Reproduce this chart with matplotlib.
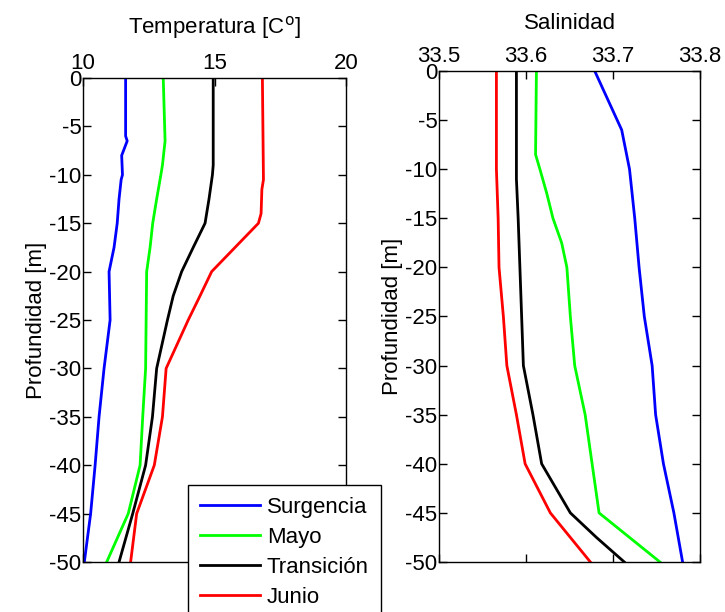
import matplotlib
matplotlib.use("Agg")
import matplotlib.pyplot as plt

plt.rcParams['font.family'] = ['Liberation Sans', 'DejaVu Sans']
plt.rcParams['axes.unicode_minus'] = False

# ---- datos: temperatura ----
z_t_surg = [0, -6, -6.5, -8, -10, -10.5, -12.5, -15, -17.5, -20, -25, -30, -35, -40, -45, -50]
t_surg = [11.62, 11.62, 11.68, 11.47, 11.50, 11.45, 11.37, 11.30, 11.18, 10.99, 11.03, 10.80, 10.61, 10.46, 10.29, 10.05]
z_t_mayo = [0, -6.5, -9, -10, -12.5, -15, -17.5, -20, -25, -30, -35, -40, -45, -50]
t_mayo = [13.05, 13.12, 13.02, 12.96, 12.80, 12.65, 12.55, 12.42, 12.40, 12.38, 12.27, 12.17, 11.72, 10.90]
z_t_trans = [0, -9, -10, -12.5, -15, -17.5, -20, -22.5, -25, -30, -35, -40, -45, -50]
t_trans = [14.95, 14.95, 14.92, 14.79, 14.64, 14.19, 13.75, 13.43, 13.21, 12.80, 12.64, 12.38, 11.89, 11.37]
z_t_jun = [0, -10.5, -11.5, -14, -15, -17.5, -20, -22.5, -25, -30, -35, -40, -45, -50]
t_jun = [16.82, 16.86, 16.80, 16.77, 16.67, 15.78, 14.89, 14.45, 14.0, 13.16, 13.02, 12.71, 12.04, 11.81]

# ---- datos: salinidad ----
z_s_surg = [0, -6, -10, -15, -20, -25, -30, -35, -40, -45, -50]
s_surg = [33.679, 33.710, 33.719, 33.725, 33.730, 33.736, 33.745, 33.749, 33.758, 33.770, 33.780]
z_s_mayo = [0, -8.5, -10, -12.5, -15, -17.5, -20, -25, -30, -35, -40, -45, -50]
s_mayo = [33.612, 33.611, 33.616, 33.624, 33.631, 33.641, 33.647, 33.651, 33.656, 33.668, 33.676, 33.684, 33.754]
z_s_trans = [0, -11, -15, -20, -25, -30, -35, -40, -45, -47.5, -50]
s_trans = [33.589, 33.589, 33.591, 33.593, 33.595, 33.597, 33.608, 33.618, 33.651, 33.681, 33.713]
z_s_jun = [0, -5, -10, -15, -20, -25, -30, -35, -40, -45, -50]
s_jun = [33.566, 33.566, 33.566, 33.568, 33.569, 33.574, 33.578, 33.589, 33.599, 33.628, 33.674]

nombres = ['Surgencia', 'Mayo', 'Transición', 'Junio']
colores = ['#0000ff', '#00ff00', '#000000', '#ff0000']
y_ticks = [0, -5, -10, -15, -20, -25, -30, -35, -40, -45, -50]
t_ticks = [10, 15, 20]
s_ticks = [33.5, 33.6, 33.7, 33.8]

FS = 16

fig = plt.figure(figsize=(7.25, 6.12), dpi=100)
ax1 = fig.add_axes([0.1145, 0.0817, 0.3628, 0.7908])
ax2 = fig.add_axes([0.6055, 0.0817, 0.36, 0.8023])

temp = [(t_surg, z_t_surg), (t_mayo, z_t_mayo), (t_trans, z_t_trans), (t_jun, z_t_jun)]
sal = [(s_surg, z_s_surg), (s_mayo, z_s_mayo), (s_trans, z_s_trans), (s_jun, z_s_jun)]

lineas = []
for (x, z), c, n in zip(temp, colores, nombres):
    l, = ax1.plot(x, z, color=c, lw=2, label=n)
    lineas.append(l)
for (x, z), c in zip(sal, colores):
    ax2.plot(x, z, color=c, lw=2)

for ax, xt, lim in [(ax1, t_ticks, (10, 20)), (ax2, s_ticks, (33.5, 33.8))]:
    ax.set_xlim(*lim)
    ax.set_ylim(-50, 0)
    ax.set_xticks(xt)
    ax.set_yticks(y_ticks)
    ax.xaxis.tick_top()
    ax.tick_params(direction='in', top=True, bottom=True, left=True, right=True,
                   labeltop=True, labelbottom=False, labelsize=FS, length=6, width=1)
    ax.tick_params(axis='y', pad=1)
    ax.tick_params(axis='x', pad=3)
    ax.set_ylabel('Profundidad [m]', fontsize=FS, labelpad=2)
    for s in ax.spines.values():
        s.set_linewidth(1)

ax1.set_xticklabels([str(v) for v in t_ticks])
ax2.set_xticklabels([f'{v:.1f}' for v in s_ticks])
ax1.set_title('Temperatura [C$^{\\mathrm{o}}$]', fontsize=FS, pad=14)
ax2.set_title('Salinidad', fontsize=FS, pad=12)

fig.legend(handles=lineas, loc='upper left', bbox_to_anchor=(188 / 725, 1 - 485 / 612),
           fontsize=FS, frameon=True, fancybox=False, edgecolor='black', framealpha=1,
           handlelength=2.7, handletextpad=0.3, borderpad=0.55, borderaxespad=0,
           labelspacing=0.4)

fig.savefig('out.png', dpi=100)
